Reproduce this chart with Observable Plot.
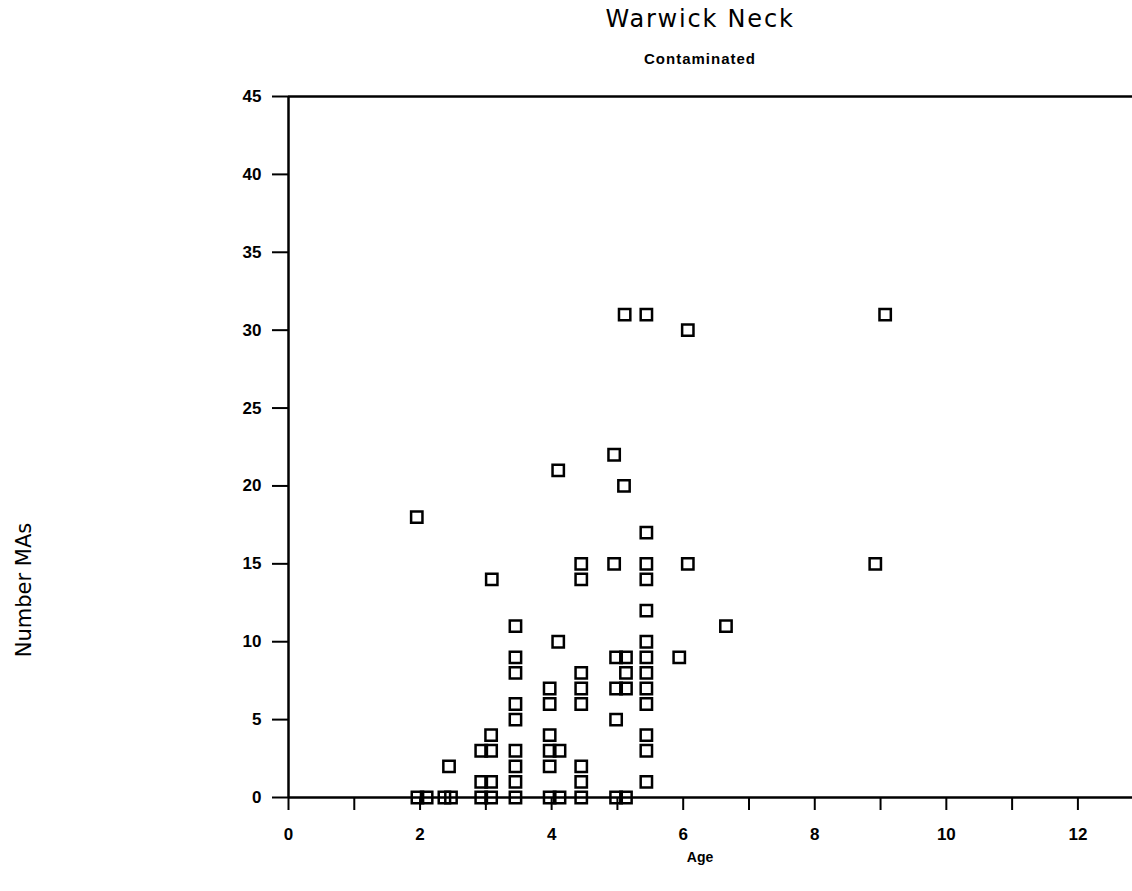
<!DOCTYPE html>
<html>
<head>
<meta charset="utf-8">
<script src="https://cdn.jsdelivr.net/npm/d3@7"></script>
<script src="https://cdn.jsdelivr.net/npm/@observablehq/plot@0.6"></script>
<style>
  body { margin: 0; background: #fff; }
  #wrap { position: relative; width: 1132px; height: 891px; color: #000; overflow: hidden; }
  #head { position: relative; height: 80px; }
  .title { position: absolute; left: 500px; width: 400px; top: 5px; text-align: center;
           font-family: "DejaVu Sans", sans-serif; font-size: 24px; letter-spacing: 1.8px; font-weight: normal; }
  .subtitle { position: absolute; left: 500px; width: 400px; top: 50px; text-align: center;
              font-family: "Liberation Sans", sans-serif; font-size: 15px; font-weight: bold; letter-spacing: 1px; }
  .ylab { position: absolute; left: 24px; top: 590px; transform: translate(-50%, -50%) rotate(-90deg);
          font-family: "DejaVu Sans", sans-serif; font-size: 21px; white-space: nowrap; }
  .xlab { position: absolute; left: 700px; top: 857px; transform: translate(-50%, -50%);
          font-family: "Liberation Sans", sans-serif; font-size: 14px; font-weight: bold; }
</style>
</head>
<body>
<div id="wrap">
  <div id="head">
    <div class="title">Warwick Neck</div>
    <div class="subtitle">Contaminated</div>
  </div>
  <div id="chart"></div>
  <div class="ylab">Number MAs</div>
  <div class="xlab">Age</div>
</div>
<script>
// Age of each fish (x) and number of MAs (y)
const ages = [
  1.95, 1.96, 2.10, 2.37, 2.47, 2.44,
  2.93, 3.08, 2.93, 3.08, 2.93, 3.08, 3.08, 3.09,
  3.45, 3.45, 3.45, 3.45, 3.45, 3.45, 3.45, 3.45, 3.45,
  3.97, 4.12, 3.97, 3.97, 4.12, 3.97, 3.97, 3.97, 4.10, 4.10,
  4.45, 4.45, 4.45, 4.45, 4.45, 4.45, 4.45, 4.45,
  4.98, 5.13, 4.98, 4.98, 5.13, 5.13, 4.98, 5.13, 4.95, 5.10, 4.95, 5.11,
  5.44, 5.44, 5.44, 5.44, 5.44, 5.44, 5.44, 5.44, 5.44, 5.44, 5.44, 5.44, 5.44,
  5.94, 6.07, 6.07, 6.65, 8.92, 9.07
];
const counts = [
  18, 0, 0, 0, 0, 2,
  0, 0, 1, 1, 3, 3, 4, 14,
  0, 1, 2, 3, 5, 6, 8, 9, 11,
  0, 0, 2, 3, 3, 4, 6, 7, 10, 21,
  0, 1, 2, 6, 7, 8, 14, 15,
  0, 0, 5, 7, 7, 8, 9, 9, 15, 20, 22, 31,
  1, 3, 4, 6, 7, 8, 9, 10, 12, 14, 15, 17, 31,
  9, 15, 30, 11, 15, 31
];
const xTicks = [0, 1, 2, 3, 4, 5, 6, 7, 8, 9, 10, 11, 12];
const yTicks = [0, 5, 10, 15, 20, 25, 30, 35, 40, 45];

const data = ages.map((a, i) => ({ age: a, n: counts[i] }));

const chart = Plot.plot({
  width: 1132,
  height: 811,
  marginLeft: 288,
  marginRight: 0,
  marginTop: 16,
  marginBottom: 94,
  x: { domain: [0, 12.83] },
  y: { domain: [0, 45] },
  style: { fontFamily: "Liberation Sans, sans-serif", fontSize: "17px", fontWeight: "bold", background: "white", color: "black", overflow: "visible" },
  marks: [
    Plot.ruleY([45], { stroke: "black", strokeWidth: 2.5 }),
    Plot.ruleY([0], { stroke: "black", strokeWidth: 2.5 }),
    Plot.ruleX([0], { stroke: "black", strokeWidth: 2.5 }),
    Plot.axisY({ ticks: yTicks, tickSize: 16, tickPadding: 11, label: null, strokeWidth: 2, tickFormat: d => String(d) }),
    Plot.axisX({ ticks: xTicks, tickSize: 13, tickPadding: 17, label: null, strokeWidth: 2, tickFormat: d => (d % 2 === 0 ? String(d) : "") }),
    Plot.dot(data, { x: "age", y: "n", symbol: "square", r: 6.4, stroke: "black", strokeWidth: 2.5, fill: "none" })
  ]
});
document.getElementById("chart").appendChild(chart);
</script>
</body>
</html>
